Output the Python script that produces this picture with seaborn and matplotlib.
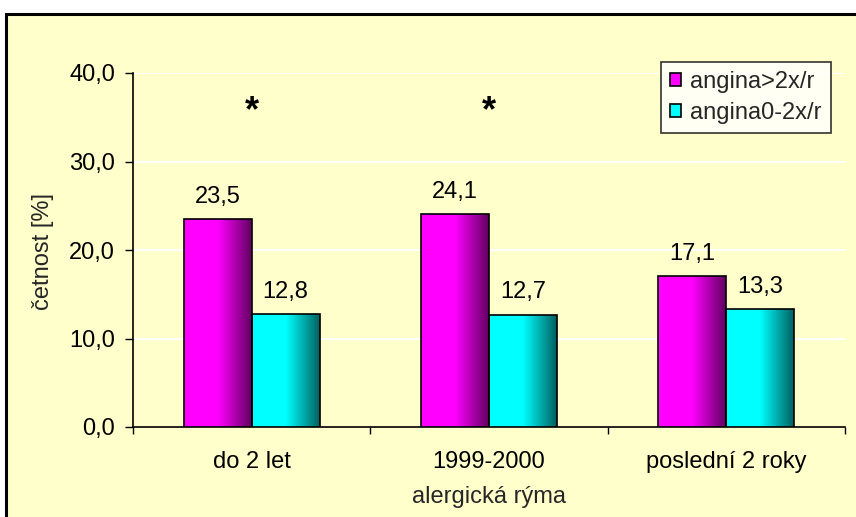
import numpy as np
import pandas as pd
import matplotlib
matplotlib.use("Agg")
import matplotlib.pyplot as plt
from matplotlib.colors import LinearSegmentedColormap
from matplotlib.patches import Patch, Rectangle
import seaborn as sns

# Data
categories = ["do 2 let", "1999-2000", "poslední 2 roky"]
series_names = ["angina>2x/r", "angina0-2x/r"]
angina_high = [23.5, 24.1, 17.1]
angina_low = [12.8, 12.7, 13.3]
significant = [True, True, False]
y_ticks = [0, 10, 20, 30, 40]

sns.set_theme(style="white")
plt.rcParams["font.family"] = ["Liberation Sans", "DejaVu Sans"]

BG = "#FFFFCC"
FS = 17
colors = {"angina>2x/r": "#FF00FF", "angina0-2x/r": "#00FFFF"}
dark = {"angina>2x/r": "#600060", "angina0-2x/r": "#006060"}

df = pd.DataFrame({
    "kategorie": categories * 2,
    "skupina": [series_names[0]] * 3 + [series_names[1]] * 3,
    "hodnota": angina_high + angina_low,
})

W, H = 856, 517
fig = plt.figure(figsize=(W / 100, H / 100), dpi=100)
fig.patch.set_facecolor("white")

# chart frame
frame = Rectangle((6 / W, -0.05), 1.0, 1 - 14 / H + 0.05, transform=fig.transFigure,
                  facecolor=BG, edgecolor="black", linewidth=2.2, zorder=-10)
fig.patches.append(frame)

ax = fig.add_axes([133 / W, 1 - 427 / H, (845 - 133) / W, (427 - 73) / H])
ax.set_facecolor(BG)
ax.set_zorder(1)

sns.barplot(data=df, x="kategorie", y="hodnota", hue="skupina", order=categories,
            hue_order=series_names, palette=colors, width=0.573, gap=0,
            edgecolor="black", linewidth=1.2, saturation=1, ax=ax, legend=False, zorder=3)

ax.set_xlim(-0.5, 2.5)
ax.set_ylim(0, 40)

# horizontal gradient fill inside each bar
grad = np.linspace(0, 1, 256).reshape(1, -1)
for name, container in zip(series_names, ax.containers):
    cmap = LinearSegmentedColormap.from_list(name, [colors[name], colors[name], dark[name]])
    for bar in container:
        x0, y0 = bar.get_x(), bar.get_y()
        w, h = bar.get_width(), bar.get_height()
        im = ax.imshow(grad, extent=[x0, x0 + w, y0, y0 + h], aspect="auto",
                       cmap=cmap, origin="lower", zorder=3, interpolation="bilinear")
        im.set_clip_path(bar)
        bar.set_facecolor("none")
        bar.set_zorder(4)
        ax.annotate(f"{h:.1f}".replace(".", ","), (x0 + w / 2, y0 + h),
                    xytext=(0, 8), textcoords="offset points", ha="center", va="bottom",
                    fontsize=FS, color="black", zorder=5)

ax.set_xlim(-0.5, 2.5)
ax.set_ylim(0, 40)

# significance markers
for i, sig in enumerate(significant):
    if sig:
        ax.text(i, 35.6, "*", ha="center", va="center", fontsize=26, fontweight="bold",
                color="black", zorder=5)

# grid and axes
ax.set_yticks(y_ticks)
ax.set_yticklabels([f"{v:.1f}".replace(".", ",") for v in y_ticks], fontsize=FS)
ax.yaxis.grid(True, color="white", linewidth=1.4, zorder=1)
ax.set_axisbelow(True)
ax.tick_params(axis="y", direction="out", length=6, width=1, color="black", pad=7,
               left=True, labelcolor="black")
ax.set_xticks(range(len(categories)))
ax.set_xticklabels(categories, fontsize=FS)
ax.tick_params(axis="x", which="major", length=0, pad=17, labelcolor="black")
ax.set_xticks([-0.5, 0.5, 1.5, 2.5], minor=True)
ax.tick_params(axis="x", which="minor", direction="out", length=5, width=1,
               color="black", bottom=True)
for side in ["top", "right"]:
    ax.spines[side].set_visible(False)
for side in ["left", "bottom"]:
    ax.spines[side].set_visible(True)
    ax.spines[side].set_color("black")
    ax.spines[side].set_linewidth(1.2)
ax.set_xlabel("")
ax.set_ylabel("")

fig.text(489 / W, 1 - 497 / H, "alergická rýma", ha="center", va="center", fontsize=FS)
fig.text(43 / W, 1 - 252 / H, "četnost [%]", ha="center", va="center", rotation=90,
         fontsize=FS)

handles = [Patch(facecolor=colors[n], edgecolor="black", linewidth=1.2, label=n)
           for n in series_names]
leg = fig.legend(handles=handles, loc="upper left", bbox_to_anchor=(661 / W, 1 - 62 / H),
                 frameon=True, fancybox=False, fontsize=FS, handlelength=0.45,
                 handleheight=0.45, handletextpad=0.4, borderpad=0.38, labelspacing=0.38,
                 borderaxespad=0)
leg.get_frame().set_edgecolor("black")
leg.get_frame().set_linewidth(1.2)
leg.get_frame().set_facecolor("white")
leg.set_zorder(10)

fig.savefig("out.png", dpi=100, facecolor=fig.get_facecolor())
